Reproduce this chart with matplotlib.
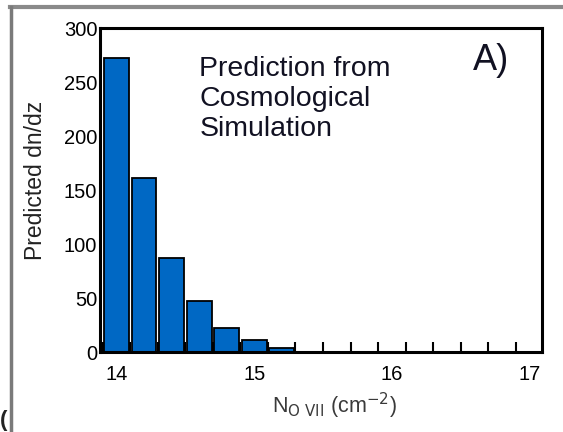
import matplotlib
matplotlib.use('Agg')
import matplotlib.pyplot as plt
from matplotlib.lines import Line2D
import numpy as np

# === Data ===
bin_centers = [14.0, 14.2, 14.4, 14.6, 14.8, 15.0, 15.2]
dn_dz = [272, 161, 87, 47, 22, 11, 4]
bin_edges = [13.9, 14.1, 14.3, 14.5, 14.7, 14.9, 15.1, 15.3, 15.5,
             15.7, 15.9, 16.1, 16.3, 16.5, 16.7, 16.9]
x_labels = [14, 15, 16, 17]
y_labels = [0, 50, 100, 150, 200, 250, 300]
y_minor = [100, 200]

plt.rcParams['font.family'] = ['Liberation Sans', 'DejaVu Sans']

fig = plt.figure(figsize=(5.63, 4.32), dpi=100)
ax = fig.add_axes([0.1776, 0.185, 0.785, 0.750])

ax.bar(bin_centers, dn_dz, width=0.18, color='#0068c4', edgecolor='black',
       linewidth=1.3, zorder=2)

ax.set_xlim(13.88, 17.09)
ax.set_ylim(0, 300)

# labels without tick marks, tick marks on the bin edges
ax.set_xticks(x_labels)
ax.set_xticklabels([str(v) for v in x_labels], fontsize=14.5)
ax.set_xticks(bin_edges, minor=True)
ax.tick_params(axis='x', which='major', length=0, pad=9)
ax.tick_params(axis='x', which='minor', direction='in', length=7, width=1.5,
               top=False)

ax.set_yticks(y_labels)
ax.set_yticklabels([str(v) for v in y_labels], fontsize=14.5)
ax.set_yticks(y_minor, minor=True)
ax.tick_params(axis='y', which='major', length=0, pad=2)
ax.tick_params(axis='y', which='minor', direction='in', length=7, width=1.5)

for s in ax.spines.values():
    s.set_linewidth(2.2)
    s.set_zorder(3)

ax.set_xlabel(r'N$_{\mathrm{O\ VII}}$ (cm$^{-2}$)', fontsize=15.5, color='#3a3a3a')
ax.xaxis.set_label_coords(0.53, -0.12)
ax.set_ylabel('Predicted dn/dz', fontsize=16.5, color='#222222')
ax.yaxis.set_label_coords(-0.12, 0.53)

ax.text(0.225, 0.915, 'Prediction from\nCosmological\nSimulation',
        transform=ax.transAxes, fontsize=20.5, va='top', ha='left',
        linespacing=1.22, color='#111122')
ax.text(0.843, 0.955, 'A)', transform=ax.transAxes, fontsize=26,
        va='top', ha='left', color='#111122')

# gray frame of the cropped figure
fig.add_artist(Line2D([10 / 563, 1], [1 - 7 / 432, 1 - 7 / 432],
                      transform=fig.transFigure, color='#8a8a8a', lw=3))
fig.add_artist(Line2D([11 / 563, 11 / 563], [0, 1 - 7 / 432],
                      transform=fig.transFigure, color='#7a7a7a', lw=2.5))
fig.text(0.0, 0.015, '(', fontsize=16, fontweight='bold', color='#222222')

fig.savefig('out.png', dpi=100)
